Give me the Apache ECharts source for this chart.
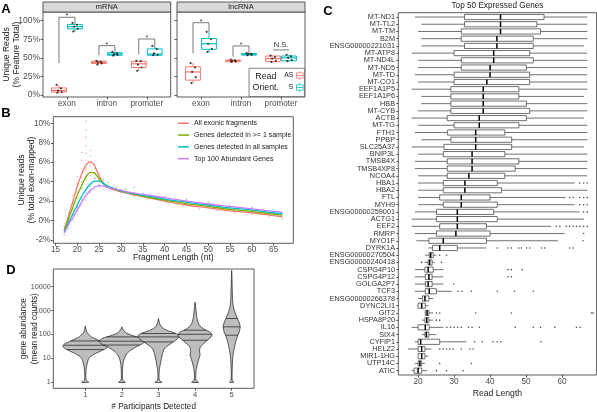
<!DOCTYPE html>
<html>
<head>
<meta charset="utf-8">
<script src="https://cdn.jsdelivr.net/npm/echarts@6.0.0/dist/echarts.min.js"></script>
<style>
html,body{margin:0;padding:0;background:#fff;}
#chart{width:597px;height:412px;}
</style>
</head>
<body>
<div id="chart"></div>
<script>
// ================= DATA =================
// ---- Panel A: unique reads (% feature total), boxes = [whiskerLow, Q1, median, Q3, whiskerHigh]
const featureCats = ['exon', 'intron', 'promoter'];
const mrnaAS = [[3, 4, 6, 9.5, 13.5], [40.5, 42.5, 44, 45.5, 46.5], [32.5, 37, 42, 45.3, 46]];
const mrnaS  = [[85, 89, 92, 95, 97], [52.5, 53.5, 55, 57, 58], [53, 53.5, 55, 62, 66]];
const lncAS  = [[16, 20, 31, 38, 43], [44, 44.8, 46, 47, 47.5], [44, 45, 49, 52.5, 53]];
const lncS   = [[57, 61.5, 69, 76, 85], [53, 53.8, 54.5, 55.8, 56.5], [45, 46, 50, 52.5, 54]];
const mrnaASPts = [[13.5, 9, 6, 4, 3], [46, 45, 44, 42.5, 41], [46, 45.5, 41, 37, 32.5]];
const mrnaSPts  = [[97, 94.5, 92, 89, 85.5], [58, 56, 55, 54, 53], [66, 62, 56, 54, 53.5]];
const lncASPts  = [[43, 37, 31, 24, 16], [47.5, 46.5, 46, 45, 44.5], [53, 51, 49, 46, 44.5]];
const lncSPts   = [[85, 75, 69, 62, 58], [56.5, 55.5, 55, 54, 53.5], [54, 52, 50, 47, 45.5]];
// significance brackets: [feature, top %, left leg end %, right leg end %]
const sigMrna = [[1, 104.6, 43, 97], [2, 66.4, 53.8, 58.3], [3, 75.4, 54.8, 65]];
const sigMrnaLabels = ['*', '*', '*'];
const sigLnc = [[1, 97.3, 56, 85], [2, 66, 51.5, 56], [3, 60.6, 60.6, 60.6]];
const sigLncLabels = ['*', '*', 'N.S.'];
const pctTicks = [0, 25, 50, 75, 100];

// ---- Panel B: unique reads (% total exon-mapped) vs fragment length
const fragLen    = [17, 18, 19, 20, 21, 22, 23, 24, 25, 26, 27, 28, 30, 32, 35, 40, 45, 50, 55, 60, 65, 67];
const allExonic  = [-1.0, 0.5, 2.0, 3.5, 4.8, 5.7, 6.05, 5.6, 4.6, 3.8, 3.4, 3.2, 2.95, 2.75, 2.45, 2.0, 1.6, 1.3, 1.0, 0.8, 0.5, 0.4];
const genesGe1   = [-1.0, 0.2, 1.4, 2.6, 3.6, 4.5, 4.95, 4.85, 4.3, 3.8, 3.5, 3.3, 3.0, 2.8, 2.5, 2.1, 1.75, 1.45, 1.15, 0.95, 0.65, 0.55];
const genesAll   = [-1.2, -0.2, 0.7, 1.6, 2.5, 3.2, 3.75, 4.05, 4.05, 3.8, 3.55, 3.35, 3.05, 2.85, 2.6, 2.2, 1.9, 1.6, 1.3, 1.1, 0.8, 0.7];
const top100     = [-1.3, -0.4, 0.3, 1.1, 1.9, 2.6, 3.1, 3.45, 3.6, 3.55, 3.4, 3.3, 3.1, 2.9, 2.7, 2.35, 2.0, 1.7, 1.45, 1.2, 0.95, 0.85];
const seriesNamesB = ['All exonic fragments', 'Genes detected in >= 1 sample', 'Genes detected in all samples', 'Top 100 Abundant Genes'];
const allExonicPts = [[17,-0.3],[17,-1.0],[18,0.8],[18,0.2],[19,2.6],[19,1.7],[20,4.5],[20,3.8],[20,2.9],[21,7.0],[21,6.2],[21,5.3],[21,4.4],[22,10.2],[22,9.3],[22,8.6],[22,7.7],[22,6.9],[22,6.2],[22,5.4],[22,4.6],[23,7.2],[23,6.6],[23,5.6],[24,5.8],[24,5.0],[25,4.8],[25,4.2],[26,3.9],[27,3.6],[30,3.2],[33,2.5],[36,2.2],[40,1.8],[44,1.5],[48,1.2],[52,1.0],[56,0.8],[60,0.6],[64,0.4],[67,0.2]];
const genesGe1Pts  = [[17,-0.6],[18,0.0],[19,1.2],[20,2.3],[21,3.3],[21,4.0],[22,4.2],[22,5.2],[23,5.9],[23,4.6],[24,5.3],[24,4.4],[25,4.5],[26,4.1],[28,3.4],[31,3.1],[35,2.6],[40,2.2],[45,1.9],[50,1.5],[55,1.2],[60,1.0],[65,0.7]];
const genesAllPts  = [[17,-1.2],[18,-0.5],[19,0.6],[20,1.4],[21,2.2],[22,2.9],[23,3.5],[24,4.3],[25,4.4],[25,3.7],[26,4.3],[27,3.9],[29,3.4],[31,3.3],[33,3.4],[35,2.8],[40,2.4],[45,2.1],[50,1.8],[55,1.5],[60,1.3],[65,0.9]];
const top100Pts    = [[17,-1.5],[18,-0.8],[19,0.0],[19,0.6],[20,0.6],[20,1.4],[21,1.5],[22,2.1],[23,2.9],[24,3.2],[25,3.4],[26,3.2],[27,3.1],[30,2.9],[33,2.8],[37,2.6],[40,2.5],[45,2.2],[50,1.9],[55,1.7],[60,1.4],[65,1.1]];
const lenTicks = [15, 20, 25, 30, 35, 40, 45, 50, 55, 60, 65];
const fracTicks = [-2, 0, 2, 4, 6, 8, 10];

// ---- Panel D: violins of log10(mean read counts) by # participants detected
const participants = [1, 2, 3, 4, 5];
// profiles: [log10 count, density]
const violinProfiles = [
  [[0,3.5],[0.08,1],[0.2,0.5],[0.4,0.6],[0.6,1],[0.8,2],[1.0,3.5],[1.1,6],[1.2,10],[1.3,15],[1.4,20],[1.5,22.5],[1.6,21],[1.7,16],[1.8,11],[1.9,6],[2.0,3.5],[2.1,1.5],[2.2,0.7],[2.35,0]],
  [[0,3.5],[0.08,1],[0.2,0.5],[0.5,0.6],[0.8,1.2],[1.0,2.5],[1.2,5],[1.35,9],[1.5,15],[1.6,20],[1.72,23],[1.85,19],[1.95,11],[2.05,5],[2.15,2],[2.25,0.7],[2.32,0]],
  [[0,3.5],[0.08,1],[0.2,0.5],[0.5,0.8],[0.8,2],[1.0,3],[1.2,4],[1.4,6],[1.55,10],[1.7,15],[1.82,19],[1.93,21],[2.05,17],[2.15,10],[2.25,5],[2.35,2.5],[2.45,1.2],[2.55,0.6],[2.67,0]],
  [[0,3.5],[0.08,1],[0.2,0.6],[0.5,1],[0.8,2.5],[1.0,4],[1.15,5],[1.3,4.5],[1.45,5],[1.6,8],[1.75,12],[1.9,16],[2.0,17],[2.1,15],[2.2,10],[2.35,5],[2.5,3],[2.7,1.8],[2.9,1.2],[3.1,0.7],[3.36,0]],
  [[0,2],[0.1,0.5],[0.5,0.5],[1.0,1],[1.3,2],[1.6,3.5],[1.9,5.5],[2.1,7.5],[2.32,8.5],[2.5,7.5],[2.7,5.5],[2.9,3.5],[3.1,2],[3.3,1.2],[3.6,0.8],[4.0,0.5],[4.4,0.3],[4.68,0]]
];
const violinQuartiles = [[1.37, 1.55, 1.73], [1.56, 1.72, 1.9], [1.69, 1.9, 2.04], [1.76, 2.01, 2.18], [1.97, 2.32, 2.67]];
const logCountTicks = [0, 1, 2, 3, 4];

// ---- Panel C: read length distributions, top 50 genes: [whiskerLow, Q1, median, Q3, whiskerHigh]
const geneNames = ['MT-ND1','MT-TL2','MT-TM','B2M','ENSG00000221031','MT-ATP8','MT-ND4L','MT-ND5','MT-TD','MT-CO1',
  'EEF1A1P5','EEF1A1P6','HBB','MT-CYB','ACTB','MT-TG','FTH1','PPBP','SLC25A37','BNIP3L',
  'TMSB4X','TMSB4XP8','NCOA4','HBA1','HBA2','FTL','MYH9','ENSG00000259001','ACTG1','EEF2',
  'RMRP','MYO1F','DYRK1A','ENSG00000270504','ENSG00000240418','CSPG4P10','CSPG4P12','GOLGA2P7','TCF3','ENSG00000266378',
  'DYNC2LI1','GIT2','HSPA8P20','IL16','SIX4','CYFIP1','HELZ2','MIR1-1HG','UTP14C','ATIC'];
const geneStats = [
  [19.1,32.9,42.9,55.0,67.0],[20.9,32.9,42.9,53.0,67.0],[20.0,32.0,42.9,54.0,67.0],[20.9,32.0,41.9,52.0,67.0],[20.9,32.9,41.9,52.0,66.1],
  [18.2,30.0,41.0,51.0,67.0],[20.0,32.0,41.0,52.0,67.0],[20.0,32.0,40.0,50.1,67.0],[19.1,30.0,40.0,51.0,67.0],[20.0,30.0,39.1,51.0,67.0],
  [18.2,29.1,38.1,48.0,67.0],[20.9,29.1,38.1,48.0,66.1],[20.9,29.1,38.1,50.1,67.0],[20.0,29.1,38.1,51.0,67.0],[18.2,28.1,37.0,50.1,66.1],
  [20.0,30.0,37.0,48.0,67.0],[19.1,28.2,36.0,44.1,67.0],[20.9,29.1,36.0,46.0,67.0],[18.2,27.2,36.0,46.0,66.1],[20.0,27.0,35.0,44.1,67.0],
  [19.1,28.1,35.0,48.0,67.0],[19.1,28.1,35.0,47.0,67.0],[20.0,28.1,34.1,44.1,67.0],[20.0,27.0,33.0,42.0,63.5],[20.0,27.0,33.0,43.2,67.0],
  [20.0,26.0,32.0,40.0,61.0],[20.0,27.0,32.0,42.0,63.5],[19.1,25.1,30.9,41.0,64.9],[18.2,25.1,30.9,42.0,66.1],[18.2,26.0,30.9,39.0,57.0],
  [19.1,25.1,30.5,40.0,60.7],[19.5,23.0,27.0,39.0,58.9],[22.8,24.0,26.0,30.9,39.0],[21.9,23.1,23.5,24.2,25.1],[21.9,22.8,23.2,23.9,24.6],
  [19.1,21.9,22.8,24.2,27.0],[19.1,22.0,23.0,23.9,27.0],[19.1,22.0,22.8,23.9,27.0],[19.1,22.0,23.1,25.1,29.3],[20.0,21.2,21.9,23.0,24.2],
  [19.8,20.0,21.0,22.0,22.8],[21.9,22.0,22.5,23.0,24.2],[21.0,21.9,22.4,23.0,24.2],[18.2,20.0,22.0,23.1,27.0],[21.0,21.9,22.3,23.0,25.0],
  [19.1,20.0,20.7,26.0,33.4],[17.2,20.0,21.0,21.9,23.7],[20.0,20.0,21.0,21.9,22.8],[19.1,20.0,20.5,21.0,21.9],[18.2,18.9,20.0,21.0,22.5]
];
const geneOutliers = [
  [],[],[],[],[],[],[],[],[],[],
  [],[],[],[],[],[],[],[],[],[],
  [],[],[],[64.9,66.0,67.0],[],[62.1,63.1,64.9,66.0,67.0],[64.9,66.0,67.0],[66.0,67.0],[],[58.4,59.4,61.2,62.1,63.1,64.0,64.9,66.0,67.0],
  [66.0],[65.8],[42.0,45.0,45.9,48.0,48.7,50.1,51.0,54.3,55.2,62.1,63.1],[26.0,27.9],[21.0,26.5],
  [45.0,45.9,48.9],[45.0,45.9],[29.9],[31.1,32.2,34.8,42.0,46.8,52.0],[],
  [],[25.1,26.0,36.0,45.9,68.2,68.6],[25.1,26.0],[28,29,30,31,32,34,35,37,47,52,54,58,64,65],[],
  [35.7,37.8,40.8,42.0,43.0,54.1],[26.0,27.0,27.9,28.8,29.7,32.0,34.4,35.3],[],[26.0,34.8],[25.1,27.9,32.5]
];
const readLenTicks = [20, 30, 40, 50, 60];

// ================= RENDERING =================
const FONT = '"Liberation Sans", Arial, Helvetica, sans-serif';
const RED = '#F8766D', BLUE = '#00BFC4', GREEN = '#7CAE00', PURPLE = '#C77CFF';
const DODGE = 0.2, BOXHALF = 0.185, JIT = [-0.06, 0.05, -0.02, 0.07, -0.04];
const VIOLIN_SCALE = 1 / 36.6;
const GENE_BOX_HALF = 0.36;
const gridPos = [
  {left: 43, top: 12, width: 127.7, height: 85},
  {left: 177, top: 12, width: 128, height: 85},
  {left: 53.3, top: 116.7, width: 240, height: 126.6},
  {left: 53.3, top: 269, width: 200.7, height: 119.3},
  {left: 398.3, top: 12.7, width: 198.3, height: 362.3}
];
const grids = gridPos.map(g => Object.assign({show: true, borderColor: '#333', borderWidth: 0.8, backgroundColor: '#fff', containLabel: false, outerBoundsMode: 'none'}, g));

function valAxis(gridIndex, min, max, ticks, fmt, extra) {
  const ax = {
    type: 'value', gridIndex: gridIndex, min: min, max: max,
    axisLine: {show: false, onZero: false},
    axisTick: {show: true, length: 2.5, lineStyle: {color: '#333', width: 0.8}, customValues: ticks},
    axisLabel: {show: true, customValues: ticks, formatter: fmt, fontSize: 8.2, color: '#4d4d4d', fontFamily: FONT, margin: 3},
    splitLine: {show: false},
    nameMoveOverlap: false
  };
  if (extra) {
    for (const k in extra) {
      if (k === 'axisLabel' || k === 'axisTick') Object.assign(ax[k], extra[k]);
      else ax[k] = extra[k];
    }
  }
  return ax;
}
const nameStyle = {fontSize: 8.6, color: '#1a1a1a', fontFamily: FONT, lineHeight: 10.5};
const nameStyleD = {fontSize: 8.2, color: '#1a1a1a', fontFamily: FONT, lineHeight: 10.5};

const xAxes = [
  valAxis(0, 0.4, 3.6, [1, 2, 3], v => featureCats[Math.round(v) - 1]),
  valAxis(1, 0.4, 3.6, [1, 2, 3], v => featureCats[Math.round(v) - 1]),
  valAxis(2, 14.5, 69.5, lenTicks, v => String(v), {name: 'Fragment Length (nt)', nameLocation: 'middle', nameGap: 9.5, nameTextStyle: nameStyle, axisLabel: {margin: 2.5}}),
  valAxis(3, 0.126, 5.61, participants, v => String(v), {name: '# Participants Detected', nameLocation: 'middle', nameGap: 13, nameTextStyle: nameStyleD, axisLabel: {fontSize: 7.6}}),
  valAxis(4, 14.5, 69.6, readLenTicks, v => String(v), {name: 'Read Length', nameLocation: 'middle', nameGap: 13, nameTextStyle: nameStyle})
];
const yAxes = [
  valAxis(0, -2.7, 111.7, pctTicks, v => v + '%', {name: 'Unique Reads\n(% Feature Total)', nameLocation: 'middle', nameGap: 21, nameTextStyle: nameStyle, axisLabel: {fontSize: 8.5}}),
  valAxis(1, -2.7, 111.7, pctTicks, v => '', {axisLabel: {show: false}}),
  valAxis(2, -2.34, 10.68, fracTicks, v => v + '%', {name: 'Unique reads\n(% total exon-mapped)', nameLocation: 'middle', nameGap: 16, nameTextStyle: nameStyle}),
  valAxis(3, -0.25, 4.74, logCountTicks, v => String(Math.round(Math.pow(10, v))), {name: 'gene abundance\n(mean read counts)', nameLocation: 'middle', nameGap: 13.5, nameTextStyle: nameStyleD, axisLabel: {fontSize: 7.2, margin: 2.5}, axisTick: {length: 2}}),
  valAxis(4, 0.4, 50.6, geneNames.map((g, i) => i + 1), v => geneNames[Math.round(v) - 1], {inverse: true, axisLabel: {fontSize: 7.3, color: '#333', margin: 3.3}, axisTick: {length: 2}})
];

// --- panel A renderers
function boxRender(color, offset) {
  return function (params, api) {
    const x = api.value(0) + offset;
    const lo = api.value(1), q1 = api.value(2), md = api.value(3), q3 = api.value(4), hi = api.value(5);
    const c = v => api.coord([x, v]);
    const tl = api.coord([x - BOXHALF, q3]), br = api.coord([x + BOXHALF, q1]);
    const ml = api.coord([x - BOXHALF, md]), mr = api.coord([x + BOXHALF, md]);
    const st = {stroke: color, lineWidth: 1, fill: null};
    return {type: 'group', children: [
      {type: 'line', shape: {x1: c(hi)[0], y1: c(hi)[1], x2: c(q3)[0], y2: c(q3)[1]}, style: st},
      {type: 'line', shape: {x1: c(lo)[0], y1: c(lo)[1], x2: c(q1)[0], y2: c(q1)[1]}, style: st},
      {type: 'rect', shape: {x: tl[0], y: tl[1], width: br[0] - tl[0], height: br[1] - tl[1]}, style: {stroke: color, lineWidth: 1, fill: '#fff'}},
      {type: 'line', shape: {x1: ml[0], y1: ml[1], x2: mr[0], y2: mr[1]}, style: {stroke: color, lineWidth: 1.2}}
    ]};
  };
}
function bracketRender(labels) {
  return function (params, api) {
    const c = api.value(0), top = api.value(1), le = api.value(2), re = api.value(3);
    const p0 = api.coord([c - DODGE, le]), p1 = api.coord([c - DODGE, top]);
    const p2 = api.coord([c + DODGE, top]), p3 = api.coord([c + DODGE, re]);
    const mid = api.coord([c, top]);
    const lab = labels[params.dataIndex];
    const star = lab === '*';
    return {type: 'group', children: [
      {type: 'polyline', shape: {points: [p0, p1, p2, p3]}, style: {stroke: '#555', lineWidth: 0.8, fill: null}},
      {type: 'text', x: mid[0], y: mid[1] + (star ? 2.5 : -0.8), style: {text: lab, fontSize: star ? 7 : 7.5, fontFamily: FONT, fill: '#333', align: 'center', verticalAlign: 'bottom'}}
    ]};
  };
}
function boxData(stats) { return stats.map((s, i) => [i + 1].concat(s)); }
function ptsData(pts, off) {
  const out = [];
  pts.forEach((arr, i) => arr.forEach((v, j) => out.push([i + 1 + off + JIT[j % JIT.length], v])));
  return out;
}
function aSeries(name, grid, stats, pts, color, off) {
  return [
    {type: 'custom', name: name, xAxisIndex: grid, yAxisIndex: grid, renderItem: boxRender(color, off), data: boxData(stats), encode: {x: 0, y: [1, 2, 3, 4, 5]}, itemStyle: {color: color}, z: 2},
    {type: 'scatter', xAxisIndex: grid, yAxisIndex: grid, data: ptsData(pts, off), symbolSize: 2.2, itemStyle: {color: '#111'}, z: 3, silent: true}
  ];
}

// --- panel D renderer
function interpProfile(prof, y) {
  for (let k = 0; k < prof.length - 1; k++) {
    const a = prof[k], b = prof[k + 1];
    if (y >= a[0] && y <= b[0]) return a[1] + (b[1] - a[1]) * (y - a[0]) / (b[0] - a[0]);
  }
  return 0;
}
function violinRender(params, api) {
  const i = params.dataIndex;
  const cx = api.value(0);
  const prof = violinProfiles[i];
  const left = [], right = [];
  prof.forEach(p => {
    const w = p[1] * VIOLIN_SCALE;
    left.push(api.coord([cx - w, p[0]]));
    right.push(api.coord([cx + w, p[0]]));
  });
  const pts = left.concat(right.reverse());
  const children = [{type: 'polygon', shape: {points: pts, smooth: 0.25}, style: {fill: '#bdbdbd', stroke: '#1a1a1a', lineWidth: 0.7}}];
  violinQuartiles[i].forEach(q => {
    const w = interpProfile(prof, q) * VIOLIN_SCALE;
    const a = api.coord([cx - w, q]), b = api.coord([cx + w, q]);
    children.push({type: 'line', shape: {x1: a[0], y1: a[1], x2: b[0], y2: b[1]}, style: {stroke: '#1a1a1a', lineWidth: 0.7}});
  });
  return {type: 'group', children: children};
}

// --- panel C renderer
function geneBoxRender(params, api) {
  const y = api.value(0), lo = api.value(1), q1 = api.value(2), md = api.value(3), q3 = api.value(4), hi = api.value(5);
  const a = api.coord([q1, y - GENE_BOX_HALF]), b = api.coord([q3, y + GENE_BOX_HALF]);
  const m1 = api.coord([md, y - GENE_BOX_HALF]), m2 = api.coord([md, y + GENE_BOX_HALF]);
  const w1 = api.coord([lo, y]), w2 = api.coord([q1, y]), w3 = api.coord([q3, y]), w4 = api.coord([hi, y]);
  const wst = {stroke: '#4d4d4d', lineWidth: 0.8};
  return {type: 'group', children: [
    {type: 'line', shape: {x1: w1[0], y1: w1[1], x2: w2[0], y2: w2[1]}, style: wst},
    {type: 'line', shape: {x1: w3[0], y1: w3[1], x2: w4[0], y2: w4[1]}, style: wst},
    {type: 'rect', shape: {x: Math.min(a[0], b[0]), y: Math.min(a[1], b[1]), width: Math.abs(b[0] - a[0]), height: Math.abs(b[1] - a[1])}, style: {fill: '#fff', stroke: '#4d4d4d', lineWidth: 0.8}},
    {type: 'line', shape: {x1: m1[0], y1: m1[1], x2: m2[0], y2: m2[1]}, style: {stroke: '#000', lineWidth: 1.5}}
  ]};
}

const series = [];
series.push(...aSeries('AS', 0, mrnaAS, mrnaASPts, RED, -DODGE));
series.push(...aSeries('S', 0, mrnaS, mrnaSPts, BLUE, DODGE));
series.push(...aSeries('AS', 1, lncAS, lncASPts, RED, -DODGE));
series.push(...aSeries('S', 1, lncS, lncSPts, BLUE, DODGE));
series.push({type: 'custom', xAxisIndex: 0, yAxisIndex: 0, renderItem: bracketRender(sigMrnaLabels), data: sigMrna, encode: {x: 0, y: 1}, silent: true, z: 4});
series.push({type: 'custom', xAxisIndex: 1, yAxisIndex: 1, renderItem: bracketRender(sigLncLabels), data: sigLnc, encode: {x: 0, y: 1}, silent: true, z: 4});

// panel B
const lineVals = [allExonic, genesGe1, genesAll, top100];
const ptVals = [allExonicPts, genesGe1Pts, genesAllPts, top100Pts];
const colorsB = [RED, GREEN, BLUE, PURPLE];
seriesNamesB.forEach((nm, k) => {
  series.push({type: 'line', name: nm, xAxisIndex: 2, yAxisIndex: 2, data: fragLen.map((x, i) => [x, lineVals[k][i]]),
    smooth: 0.35, showSymbol: false, symbol: 'none', lineStyle: {color: colorsB[k], width: 1.3}, itemStyle: {color: colorsB[k]}, z: 3});
});
seriesNamesB.forEach((nm, k) => {
  series.push({type: 'scatter', name: nm, xAxisIndex: 2, yAxisIndex: 2, data: ptVals[k], symbolSize: 1.6,
    itemStyle: {color: colorsB[k], opacity: 0.55}, z: 2, silent: true});
});

// panel D
series.push({type: 'custom', xAxisIndex: 3, yAxisIndex: 3, renderItem: violinRender,
  data: participants.map((p, i) => [p, violinQuartiles[i][1]]), encode: {x: 0, y: 1}, silent: true});

// panel C
series.push({type: 'custom', xAxisIndex: 4, yAxisIndex: 4, renderItem: geneBoxRender,
  data: geneStats.map((s, i) => [i + 1].concat(s)), encode: {x: [1, 2, 3, 4, 5], y: 0}, silent: true});
const outlierData = [];
geneOutliers.forEach((arr, i) => arr.forEach(v => outlierData.push([v, i + 1])));
series.push({type: 'scatter', xAxisIndex: 4, yAxisIndex: 4, data: outlierData, symbolSize: 1.6, itemStyle: {color: '#222'}, silent: true});

const boxIcon = 'path://M5.5,0H6.5V2H5.5Z M1,2H11V10H1Z M2,3V9H10V3Z M1,5.5H11V6.5H1Z M5.5,10H6.5V12H5.5Z';

function txt(x, y, text, size, extra) {
  return {type: 'text', x: x, y: y, z: 10, silent: true,
    style: Object.assign({text: text, fontSize: size, fontFamily: FONT, fill: '#1a1a1a', align: 'center', verticalAlign: 'middle'}, extra || {})};
}
const graphics = [
  {type: 'rect', shape: {x: 43, y: 2, width: 127.7, height: 10}, style: {fill: '#d9d9d9', stroke: '#333', lineWidth: 0.8}, silent: true},
  txt(106.8, 7.2, 'mRNA', 7.5),
  {type: 'rect', shape: {x: 177, y: 2, width: 128, height: 10}, style: {fill: '#d9d9d9', stroke: '#333', lineWidth: 0.8}, silent: true},
  txt(241, 7.2, 'lncRNA', 7.5),
  {type: 'rect', shape: {x: 249, y: 68.3, width: 55.5, height: 28.2}, style: {fill: '#fff', stroke: '#666', lineWidth: 0.8}, z: 3, silent: true},
  txt(265.8, 76.7, 'Read', 8.8),
  txt(265.8, 87.7, 'Orient.', 8.8),
  txt(6, 9, 'A', 13, {fontWeight: 'bold', fill: '#000'}),
  txt(6, 113, 'B', 13, {fontWeight: 'bold', fill: '#000'}),
  txt(328, 11, 'C', 13, {fontWeight: 'bold', fill: '#000'}),
  txt(11, 270, 'D', 13, {fontWeight: 'bold', fill: '#000'}),
  txt(497.5, 5.5, 'Top 50 Expressed Genes', 8.2)
];

const option = {
  animation: false,
  backgroundColor: '#fff',
  textStyle: {fontFamily: FONT},
  grid: grids,
  xAxis: xAxes,
  yAxis: yAxes,
  legend: [
    {data: [{name: 'AS', icon: boxIcon}, {name: 'S', icon: boxIcon}], orient: 'vertical', align: 'right',
      right: 293.5, top: 71, itemWidth: 9, itemHeight: 9, itemGap: 3, padding: 0, selectedMode: false, z: 6,
      textStyle: {fontSize: 6.8, color: '#1a1a1a', fontFamily: FONT, padding: [0, -3, 0, 0]}},
    {data: seriesNamesB.map(n => ({name: n, icon: 'rect'})), orient: 'vertical', left: 178, top: 119.5,
      itemWidth: 11, itemHeight: 1.5, itemGap: 4.3, padding: 0, selectedMode: false,
      textStyle: {fontSize: 7, color: '#1a1a1a', fontFamily: FONT, lineHeight: 7.5}}
  ],
  graphic: graphics,
  series: series
};
const chart = echarts.init(document.getElementById('chart'), null, {renderer: 'canvas', width: 597, height: 412});
chart.setOption(option);
</script>
</body>
</html>
